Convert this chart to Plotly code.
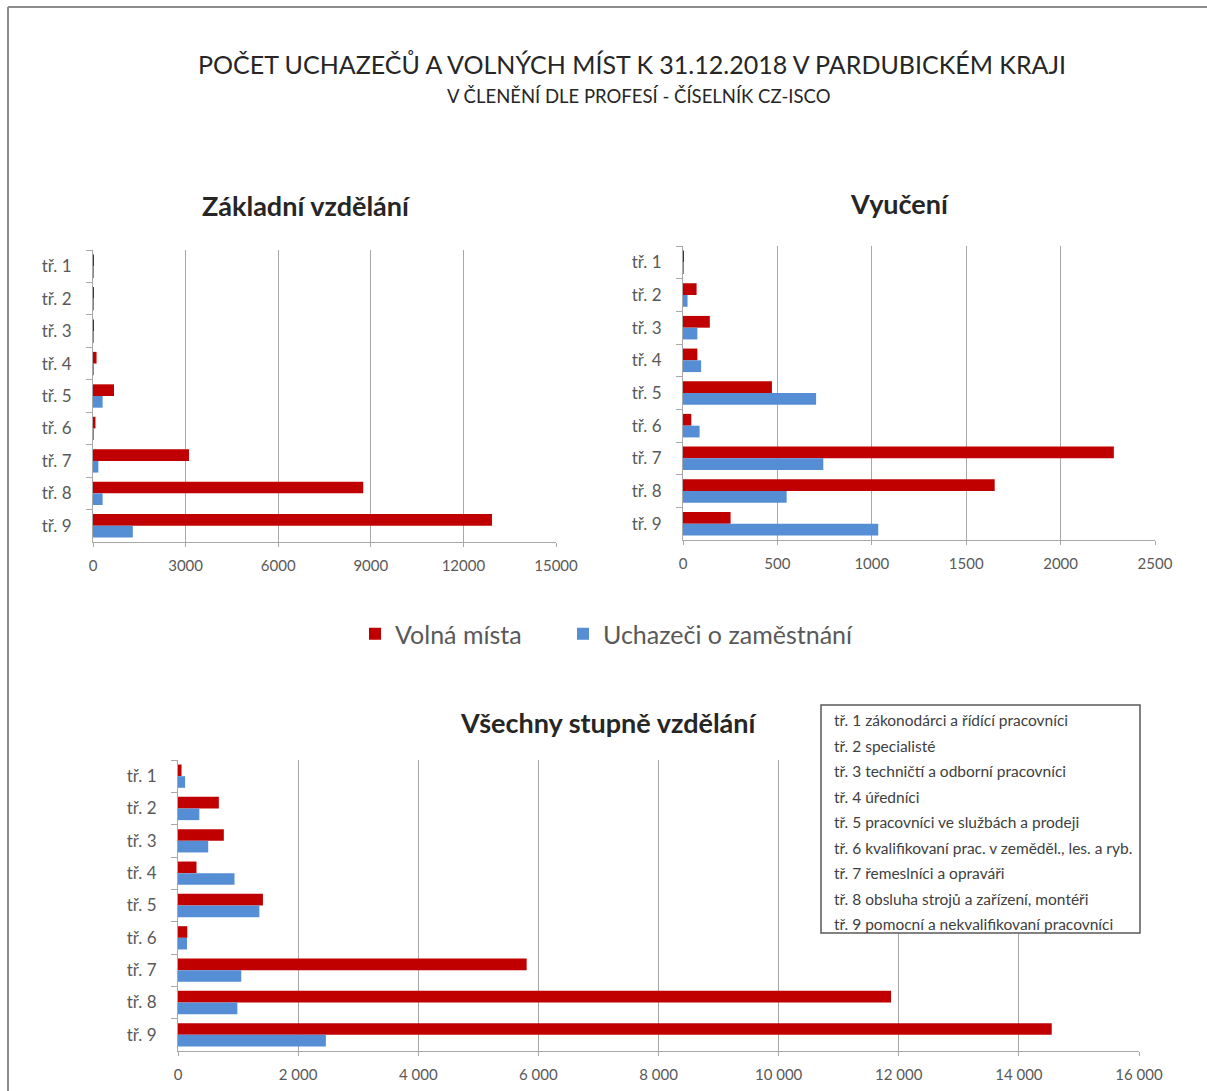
import plotly.graph_objects as go

W, H = 1207, 1091

categories = ["tř. 1", "tř. 2", "tř. 3", "tř. 4", "tř. 5", "tř. 6", "tř. 7", "tř. 8", "tř. 9"]

# Základní vzdělání
zakl_volna = [5, 5, 8, 115, 680, 80, 3110, 8755, 12926]
zakl_uchazeci = [10, 12, 15, 20, 311, 20, 173, 311, 1290]

# Vyučení
vyuc_volna = [5, 72, 142, 76, 471, 44, 2282, 1651, 252]
vyuc_uchazeci = [4, 24, 76, 96, 705, 88, 743, 549, 1034]

# Všechny stupně vzdělání
vse_volna = [59, 680, 763, 308, 1414, 154, 5805, 11872, 14547]
vse_uchazeci = [118, 355, 503, 941, 1355, 150, 1053, 988, 2462]

series_names = ["Volná místa", "Uchazeči o zaměstnání"]

class_descriptions = [
    "tř. 1 zákonodárci a řídící pracovníci",
    "tř. 2 specialisté",
    "tř. 3 techničtí a odborní pracovníci",
    "tř. 4 úředníci",
    "tř. 5 pracovníci ve službách a prodeji",
    "tř. 6 kvalifikovaní prac. v zeměděl., les. a ryb.",
    "tř. 7 řemeslníci a opraváři",
    "tř. 8 obsluha strojů a zařízení, montéři",
    "tř. 9 pomocní a nekvalifikovaní pracovníci",
]

RED = "#C00000"
BLUE = "#558ED5"
GRID = "#A8A8A8"
TXT = "#595959"
FONT = "Lato"


def px_x(p):
    return p / W


def px_y(p):
    return 1 - p / H


fig = go.Figure()

panels = [
    (zakl_volna, zakl_uchazeci, "x", "y", True),
    (vyuc_volna, vyuc_uchazeci, "x2", "y2", False),
    (vse_volna, vse_uchazeci, "x3", "y3", False),
]
for volna, uch, xa, ya, show in panels:
    fig.add_trace(go.Bar(y=categories, x=volna, orientation="h", name=series_names[0],
                         marker=dict(color=RED, line=dict(width=0)), xaxis=xa, yaxis=ya,
                         showlegend=show, legend="legend"))
    fig.add_trace(go.Bar(y=categories, x=uch, orientation="h", name=series_names[1],
                         marker=dict(color=BLUE, line=dict(width=0)), xaxis=xa, yaxis=ya,
                         showlegend=show, legend="legend2"))

xcommon = dict(showgrid=True, gridcolor=GRID, gridwidth=1, showline=True, linecolor=GRID,
               linewidth=1, ticks="outside", ticklen=4, tickcolor=GRID, zeroline=False,
               automargin=False, ticklabelstandoff=6,
               tickfont=dict(family=FONT, size=15, color=TXT), fixedrange=True)
ycommon = dict(type="category", autorange="reversed", showgrid=False, showline=True,
               linecolor=GRID, linewidth=1, ticks="outside", ticklen=6, tickcolor=GRID,
               tickson="boundaries", tickfont=dict(family=FONT, size=17, color=TXT),
               ticklabelstandoff=17, fixedrange=True, automargin=False)

legend_common = dict(orientation="h", yanchor="middle", xanchor="left", itemwidth=30,
                     font=dict(family=FONT, size=25, color=TXT), bgcolor="rgba(0,0,0,0)")

fig.update_layout(
    template="none",
    width=W, height=H,
    autosize=False,
    margin=dict(l=0, r=0, t=0, b=0, pad=0, autoexpand=False),
    paper_bgcolor="white", plot_bgcolor="white",
    barmode="group", bargap=0.28, bargroupgap=0,
    separators=", ",
    font=dict(family=FONT, color=TXT),
    xaxis=dict(domain=[px_x(93), px_x(556)], range=[0, 15000], dtick=3000, tickformat="d",
               anchor="y", **xcommon),
    yaxis=dict(domain=[px_y(542), px_y(250)], anchor="x", **ycommon),
    xaxis2=dict(domain=[px_x(683), px_x(1155)], range=[0, 2500], dtick=500, tickformat="d",
                anchor="y2", **xcommon),
    yaxis2=dict(domain=[px_y(540), px_y(246)], anchor="x2", **ycommon),
    xaxis3=dict(domain=[px_x(178), px_x(1139)], range=[0, 16000], dtick=2000, tickformat=",d",
                anchor="y3", **xcommon),
    yaxis3=dict(domain=[px_y(1051), px_y(760)], anchor="x3", **ycommon),
    legend=dict(x=px_x(355), y=px_y(634), **legend_common),
    legend2=dict(x=px_x(563), y=px_y(634), **legend_common),
)

annotations = [
    dict(text="POČET UCHAZEČŮ A VOLNÝCH MÍST K 31.12.2018 V PARDUBICKÉM KRAJI",
         x=px_x(632), y=px_y(64), font=dict(family=FONT, size=25, color="#262626")),
    dict(text="V ČLENĚNÍ DLE PROFESÍ - ČÍSELNÍK CZ-ISCO",
         x=px_x(638), y=px_y(96), font=dict(family=FONT, size=18.5, color="#262626")),
    dict(text="<b>Základní vzdělání</b>", x=px_x(306), y=px_y(205),
         font=dict(family=FONT, size=27, color="#262626")),
    dict(text="<b>Vyučení</b>", x=px_x(900), y=px_y(203),
         font=dict(family=FONT, size=27, color="#262626")),
    dict(text="<b>Všechny stupně vzdělání</b>", x=px_x(609), y=px_y(722),
         font=dict(family=FONT, size=27, color="#262626")),
]
for a in annotations:
    a.update(xref="paper", yref="paper", showarrow=False, xanchor="center", yanchor="middle")

line_y0 = 720
line_step = 25.5
for i, t in enumerate(class_descriptions):
    annotations.append(dict(text=t, xref="paper", yref="paper", x=px_x(832),
                            y=px_y(line_y0 + i * line_step), xanchor="left", yanchor="middle",
                            showarrow=False, font=dict(family=FONT, size=15.5, color="#404040")))
fig.update_layout(annotations=annotations)

shapes = [
    # descriptive box of classes
    dict(type="rect", xref="paper", yref="paper", x0=px_x(821), x1=px_x(1140),
         y0=px_y(933), y1=px_y(705), line=dict(color="#595959", width=1.5),
         fillcolor="white", layer="above"),
    # outer frame (left and top edges visible)
    dict(type="line", xref="paper", yref="paper", x0=px_x(8), x1=px_x(8), y0=0, y1=px_y(7),
         line=dict(color="#8C8C8C", width=2)),
    dict(type="line", xref="paper", yref="paper", x0=px_x(8), x1=1, y0=px_y(7), y1=px_y(7),
         line=dict(color="#8C8C8C", width=2)),
]
fig.update_layout(shapes=shapes)

post = (
    "document.documentElement.style.margin='0';document.documentElement.style.padding='0';"
    "document.documentElement.style.overflow='hidden';"
    "document.body.style.margin='0';document.body.style.padding='0';"
    "document.body.style.overflow='hidden';"
)

fig.write_html(
    "out.html",
    config={"responsive": False, "displayModeBar": False},
    post_script=post,
)
